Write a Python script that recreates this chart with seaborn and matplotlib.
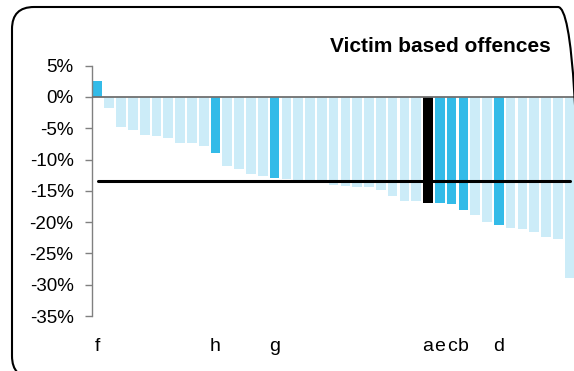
import numpy as np
import pandas as pd
import seaborn as sns
import matplotlib.pyplot as plt
from matplotlib.patches import FancyBboxPatch
from matplotlib.transforms import IdentityTransform

# % change per force, sorted
values = [2.5, -1.8, -4.8, -5.3, -6.0, -6.3, -6.6, -7.3, -7.4, -7.9,
          -8.9, -11.1, -11.5, -12.3, -12.6, -12.9, -13.1, -13.2, -13.3, -13.3,
          -14.0, -14.2, -14.4, -14.4, -14.8, -15.8, -16.6, -16.6, -16.9, -16.9,
          -17.1, -18.1, -18.9, -20.0, -20.5, -21.0, -21.1, -21.6, -22.3, -22.7,
          -29.0]
labels = ["f", "", "", "", "", "", "", "", "", "",
          "h", "", "", "", "", "g", "", "", "", "",
          "", "", "", "", "", "", "", "", "a", "e",
          "c", "b", "", "", "d", "", "", "", "", "",
          ""]
mean_value = -13.5
title = "Victim based offences"
yticks = [5, 0, -5, -10, -15, -20, -25, -30, -35]
ytick_labels = ["5%", "0%", "-5%", "-10%", "-15%", "-20%", "-25%", "-30%", "-35%"]

LIGHT = "#CCECF8"
BLUE = "#33BBE8"
BLACK = "#000000"

keys = [f"k{i:02d}" for i in range(len(values))]
colors = {}
for k, lab in zip(keys, labels):
    if lab == "a":
        colors[k] = BLACK
    elif lab:
        colors[k] = BLUE
    else:
        colors[k] = LIGHT

df = pd.DataFrame({"key": keys, "value": values})

sns.set_style("white")
plt.rcParams["font.family"] = ["Liberation Sans", "DejaVu Sans"]
plt.rcParams["text.color"] = "black"
plt.rcParams["xtick.color"] = "black"
plt.rcParams["ytick.color"] = "black"

fig = plt.figure(figsize=(5.74, 3.71), dpi=100)
ax = fig.add_axes([0.1596, 0.1482, 0.843, 0.6747])

sns.barplot(data=df, x="key", y="value", hue="key", palette=colors,
            legend=False, width=0.82, saturation=1, order=keys,
            linewidth=0, edgecolor="none", ax=ax)
ax.axhline(0, color="#707070", lw=1.3, zorder=3)
sns.lineplot(x=np.arange(len(values)), y=[mean_value] * len(values),
             color="black", lw=2.2, ax=ax, zorder=4)

ax.set_xlim(-0.5, len(values) - 0.5)
ax.set_ylim(-35, 5)
ax.set_yticks(yticks)
ax.set_yticklabels(ytick_labels, fontsize=13.5)
ax.set_xticks(range(len(values)))
ax.set_xticklabels(labels, fontsize=14)
ax.set_xlabel("")
ax.set_ylabel("")

for s in ["top", "right", "bottom"]:
    ax.spines[s].set_visible(False)
ax.spines["left"].set_color("#808080")
ax.spines["left"].set_linewidth(1.0)
ax.tick_params(axis="y", left=True, length=5, width=1, color="#808080",
               labelcolor="black", pad=8)
ax.tick_params(axis="x", bottom=False, length=0, pad=16, labelcolor="black")

fig.text(0.96, 0.876, title, ha="right", va="center", fontsize=15,
         fontweight="bold", color="black")

border = FancyBboxPatch((12, -7), 568, 371,
                        boxstyle="round,pad=0,rounding_size=22",
                        transform=IdentityTransform(), fill=False,
                        ec="black", lw=1.5)
fig.patches.append(border)

fig.savefig("out.png", dpi=100)
